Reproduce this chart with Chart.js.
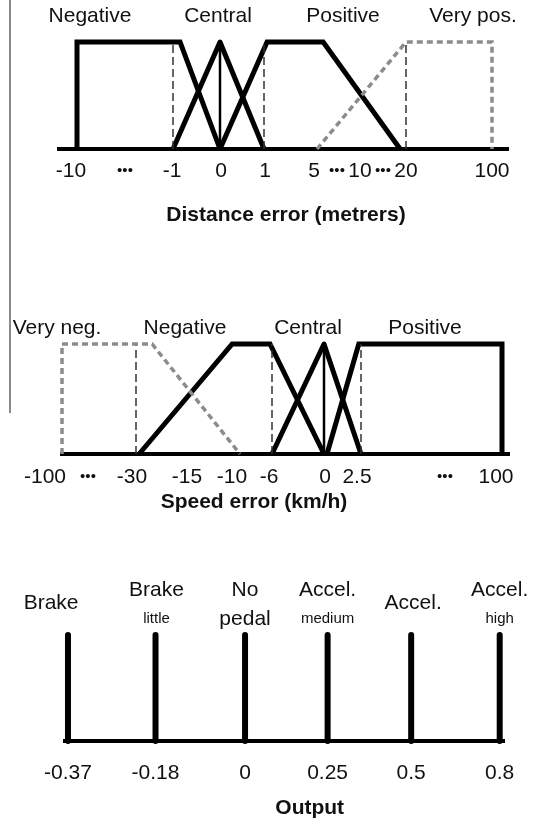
<!DOCTYPE html>
<html>
<head>
<meta charset="utf-8">
<script src="https://cdn.jsdelivr.net/npm/chart.js@4.4.1/dist/chart.umd.min.js"></script>
<style>
  html, body { margin: 0; padding: 0; background: #fff; }
  #page { position: relative; width: 534px; height: 824px; overflow: hidden; }
  #page canvas { position: absolute; left: 0; }
  #edge { position: absolute; left: 9px; top: 0; width: 2px; height: 413px; background: #8a8a8a; }
</style>
</head>
<body>
<div id="page">
  <div id="edge"></div>
  <canvas id="dist" width="534" height="240" style="top:0"></canvas>
  <canvas id="speed" width="534" height="240" style="top:290px"></canvas>
  <canvas id="output" width="534" height="284" style="top:540px"></canvas>
</div>
<script>
// ---- distance error (metres) ----
const distTicks = [-10, -1, 0, 1, 5, 10, 20, 100];
const distTickLabels = ['-10', '•••', '-1', '0', '1', '5', '•••', '10', '•••', '20', '100'];
const distSets = ['Negative', 'Central', 'Positive', 'Very pos.'];
const distNegative = [[-10, 0], [-10, 1], [-0.85, 1], [0, 0]];
const distCentral = [[-1, 0], [0, 1], [1, 0]];
const distPositive = [[0, 0], [1.23, 1], [5.7, 1], [18.7, 0]];
const distVeryPos = [[5, 0], [20, 1], [100, 1], [100, 0]];
const distGuides = [-1, 1, 20];

// ---- speed error (km/h) ----
const speedTicks = [-100, -30, -10, -6, 0, 2.5, 100];
const speedTickLabels = ['-100', '•••', '-30', '-15', '-10', '-6', '0', '2.5', '•••', '100'];
const speedSets = ['Very neg.', 'Negative', 'Central', 'Positive'];
const speedVeryNeg = [[-100, 0], [-100, 1], [-26.9, 1], [-10, 0]];
const speedNegative = [[-29.4, 0], [-11.5, 1], [-6.25, 1], [0, 0]];
const speedCentral = [[-6, 0], [0, 1], [2.5, 0]];
const speedPositive = [[0.2, 0], [2.35, 1], [100, 1], [100, 0]];
const speedGuides = [-30, -6, 2.5];

// ---- output singletons ----
const outValues = [-0.37, -0.18, 0, 0.25, 0.5, 0.8];
const outTickLabels = ['-0.37', '-0.18', '0', '0.25', '0.5', '0.8'];
const outNames = ['Brake', 'Brake', 'No', 'Accel.', 'Accel.', 'Accel.'];
const outSubNames = ['', 'little', 'pedal', 'medium', '', 'high'];

// layout: broken axes, where each axis value sits across the page
const distAxisPx = [77, 173, 220, 264, 317, 361, 406, 492];
const distTickPx = [71, 125, 172, 221, 265, 314, 337, 360, 383, 406, 492];
const distSetPx = [90, 218, 343, 473];
const speedAxisPx = [62, 136, 240, 272, 324, 361, 502];
const speedTickPx = [45, 88, 132, 187, 232, 269, 325, 357, 445, 496];
const speedSetPx = [57, 185, 308, 425];
const outAxisPx = [68, 156, 246, 329, 413, 502];
const outNamePx = [51, 157, 246, 329, 415, 502];

Chart.defaults.font.family = '"Liberation Sans", Arial, sans-serif';
Chart.defaults.color = '#111';

function toPos(v, vals, px) {
  let i = 0;
  while (i < vals.length - 2 && v > vals[i + 1]) i++;
  const t = (v - vals[i]) / (vals[i + 1] - vals[i]);
  return px[i] + t * (px[i + 1] - px[i]);
}

function line(points, vals, px, style) {
  return Object.assign({
    data: points.map(([x, y]) => ({ x: toPos(x, vals, px), y })),
    pointRadius: 0, tension: 0, fill: false, clip: false,
    borderColor: '#000', borderWidth: 5, borderJoinStyle: 'miter',
  }, style);
}

const GREY_DASH = { borderColor: '#8c8c8c', borderWidth: 3.5, borderDash: [6, 4] };
const THIN_DASH = { borderColor: '#333', borderWidth: 1.5, borderDash: [8, 4] };
const TRIANGLE = { borderJoinStyle: 'round' };
const STEM = { borderWidth: 2.5 };

// text placed on the x scale (labels above the sets, axis titles)
function textPlugin(items) {
  return {
    id: 'figureText',
    afterDraw(chart) {
      const { ctx } = chart;
      const xs = chart.scales.x;
      ctx.save();
      ctx.fillStyle = '#111';
      ctx.textAlign = 'center';
      ctx.textBaseline = 'middle';
      items.forEach(t => {
        ctx.font = t.font;
        ctx.fillText(t.text, xs.getPixelForValue(t.x), t.y);
      });
      ctx.restore();
    },
  };
}

function axisX(minPx, maxPx, tickPx, tickText, pad, border) {
  return {
    type: 'linear',
    min: minPx,
    max: maxPx,
    grid: { display: false, drawTicks: false },
    border: { display: true, color: '#000', width: border },
    afterBuildTicks: s => { s.ticks = tickPx.map(v => ({ value: v })); },
    ticks: {
      autoSkip: false, maxRotation: 0, minRotation: 0, padding: pad,
      color: '#111',
      // the "•••" gap marks are smaller, kept on the same line height
      font: c => (tickText[c.index] === '•••'
        ? { size: 15, lineHeight: 1.68 }
        : { size: 21, lineHeight: 1.2 }),
      callback: (v, i) => tickText[i],
    },
  };
}

function baseOptions(padding, x) {
  return {
    responsive: false,
    animation: false,
    devicePixelRatio: 1,
    events: [],
    layout: { padding },
    plugins: { legend: { display: false }, tooltip: { enabled: false } },
    scales: { x, y: { min: 0, max: 1, display: false } },
  };
}

const LABEL_FONT = '21px "Liberation Sans", Arial, sans-serif';
const TITLE_FONT = 'bold 21px "Liberation Sans", Arial, sans-serif';
const SMALL_FONT = '15px "Liberation Sans", Arial, sans-serif';

function renderDistance() {
  const v = distTicks, p = distAxisPx;
  const datasets = [
    line(distVeryPos, v, p, GREY_DASH),
    ...distGuides.map(g => line([[g, 0], [g, 1]], v, p, THIN_DASH)),
    line(distNegative, v, p),
    line(distCentral, v, p, TRIANGLE),
    line([[0, 0], [0, 1]], v, p, STEM),
    line(distPositive, v, p),
  ];
  const texts = distSets.map((s, i) => ({ text: s, x: distSetPx[i], y: 16, font: LABEL_FONT }));
  texts.push({ text: 'Distance error (metrers)', x: 286, y: 215, font: TITLE_FONT });

  new Chart(document.getElementById('dist'), {
    type: 'line',
    data: { datasets },
    options: baseOptions({ left: 59, right: 26, top: 42, bottom: 47 },
      axisX(59, 508, distTickPx, distTickLabels, 9.4, 4)),
    plugins: [textPlugin(texts)],
  });
}

function renderSpeed() {
  const v = speedTicks, p = speedAxisPx;
  const datasets = [
    line(speedVeryNeg, v, p, GREY_DASH),
    ...speedGuides.map(g => line([[g, 0], [g, 1]], v, p, THIN_DASH)),
    line(speedNegative, v, p),
    line(speedCentral, v, p, TRIANGLE),
    line([[0, 0], [0, 1]], v, p, STEM),
    line(speedPositive, v, p),
  ];
  const texts = speedSets.map((s, i) => ({ text: s, x: speedSetPx[i], y: 38, font: LABEL_FONT }));
  texts.push({ text: 'Speed error (km/h)', x: 254, y: 212, font: TITLE_FONT });

  new Chart(document.getElementById('speed'), {
    type: 'line',
    data: { datasets },
    options: baseOptions({ left: 62, right: 25, top: 54, bottom: 30 },
      axisX(62, 509, speedTickPx, speedTickLabels, 10.4, 4)),
    plugins: [textPlugin(texts)],
  });
}

function renderOutput() {
  const datasets = outValues.map(o => line([[o, 0], [o, 1]], outValues, outAxisPx,
    { borderWidth: 6, borderCapStyle: 'round' }));
  const texts = [];
  outNames.forEach((n, i) => {
    const sub = outSubNames[i];
    if (!sub) {
      texts.push({ text: n, x: outNamePx[i], y: 63, font: LABEL_FONT });
      return;
    }
    texts.push({ text: n, x: outNamePx[i], y: 50, font: LABEL_FONT });
    texts.push({ text: sub, x: outNamePx[i], y: 79, font: sub === 'pedal' ? LABEL_FONT : SMALL_FONT });
  });
  texts.push({ text: 'Output', x: 311, y: 268, font: TITLE_FONT });

  new Chart(document.getElementById('output'), {
    type: 'line',
    data: { datasets },
    options: baseOptions({ left: 65, right: 27, top: 95, bottom: 19 },
      axisX(65, 507, outAxisPx, outTickLabels, 19.4, 4)),
    plugins: [textPlugin(texts)],
  });
}

renderDistance();
renderSpeed();
renderOutput();
</script>
</body>
</html>
